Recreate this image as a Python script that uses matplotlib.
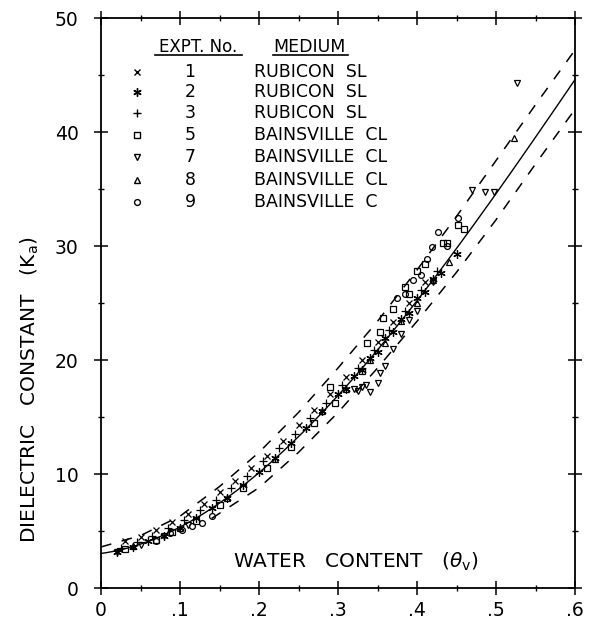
import numpy as np
import matplotlib
matplotlib.use("Agg")
import matplotlib.pyplot as plt
from matplotlib.ticker import MultipleLocator, FixedLocator

plt.rcParams['font.family'] = ['DejaVu Sans']

# Third-order calibration fit: Ka = c0 + c1*t + c2*t^2 + c3*t^3
fit_coeffs = [3.03, 9.3, 146.0, -76.7]

# Dashed envelope lines
upper_theta = [0.0, 0.05, 0.10, 0.15, 0.20, 0.25, 0.30, 0.35, 0.40, 0.45, 0.50, 0.55, 0.60]
upper_k = [3.6, 4.6, 6.3, 8.9, 11.9, 15.4, 19.3, 23.4, 27.9, 32.6, 37.5, 42.4, 47.2]
lower_theta = [0.14, 0.20, 0.25, 0.30, 0.35, 0.40, 0.45, 0.50, 0.55, 0.60]
lower_k = [6.1, 8.8, 11.9, 15.4, 19.3, 23.4, 27.7, 32.3, 37.2, 42.0]

# Experiment 1 - Rubicon SL
expt1_theta = [0.03, 0.05, 0.07, 0.09, 0.11, 0.13, 0.15, 0.17, 0.19, 0.21,
               0.23, 0.25, 0.27, 0.29, 0.31, 0.33, 0.35, 0.37, 0.39, 0.41]
expt1_k = [4.1, 4.5, 5.1, 5.8, 6.5, 7.4, 8.4, 9.4, 10.5, 11.6,
           12.9, 14.3, 15.6, 17.0, 18.5, 20.0, 21.6, 23.3, 25.0, 26.8]

# Experiment 2 - Rubicon SL
expt2_theta = [0.02, 0.04, 0.06, 0.08, 0.10, 0.12, 0.14, 0.16, 0.18, 0.20, 0.22,
               0.24, 0.26, 0.28, 0.30, 0.31, 0.32, 0.33, 0.34, 0.35, 0.36, 0.37,
               0.38, 0.39, 0.40, 0.41, 0.42, 0.43, 0.45]
expt2_k = [3.2, 3.6, 4.1, 4.6, 5.3, 6.1, 7.0, 7.9, 9.0, 10.2, 11.4,
           12.7, 14.0, 15.5, 17.0, 17.5, 18.6, 19.1, 20.2, 20.7, 21.9, 22.5,
           23.6, 24.1, 25.4, 26.0, 27.1, 27.6, 29.3]

# Experiment 3 - Rubicon SL
expt3_theta = [0.025, 0.045, 0.065, 0.085, 0.105, 0.125, 0.145, 0.165, 0.185, 0.205, 0.225,
               0.245, 0.265, 0.285, 0.305, 0.325, 0.345, 0.365, 0.385, 0.405, 0.425]
expt3_k = [3.5, 4.0, 4.6, 5.3, 6.0, 6.8, 7.7, 8.8, 9.8, 11.1, 12.3,
           13.5, 14.9, 16.2, 17.8, 19.3, 20.9, 22.6, 24.3, 26.1, 27.8]

# Experiment 5 - Bainsville CL
expt5_theta = [0.03, 0.07, 0.09, 0.12, 0.15, 0.18, 0.21, 0.24, 0.27, 0.29, 0.296, 0.33,
               0.337, 0.353, 0.357, 0.37, 0.385, 0.39, 0.40, 0.41, 0.433, 0.438, 0.452, 0.46]
expt5_k = [3.4, 4.2, 4.9, 5.9, 7.3, 8.8, 10.5, 12.4, 14.5, 17.6, 16.2, 19.0,
           21.5, 22.5, 23.7, 24.5, 26.4, 25.8, 27.8, 28.4, 30.3, 30.3, 31.8, 31.5]

# Experiment 7 - Bainsville CL
expt7_theta = [0.02, 0.05, 0.08, 0.11, 0.32, 0.325, 0.33, 0.335, 0.34, 0.35, 0.353,
               0.36, 0.37, 0.38, 0.39, 0.40, 0.42, 0.47, 0.486, 0.497, 0.527]
expt7_k = [3.2, 3.8, 4.6, 5.5, 17.5, 17.3, 17.6, 17.8, 17.2, 18.0, 18.9,
           19.5, 21.0, 22.3, 23.5, 24.3, 26.8, 34.9, 34.7, 34.7, 44.3]

# Experiment 8 - Bainsville CL
expt8_theta = [0.04, 0.10, 0.16, 0.22, 0.28, 0.31, 0.34, 0.36, 0.38, 0.40, 0.42, 0.44, 0.523]
expt8_k = [3.7, 5.3, 7.9, 11.3, 15.5, 17.5, 20.0, 21.5, 23.4, 25.0, 27.0, 28.6, 39.5]

# Experiment 9 - Bainsville C
expt9_theta = [0.07, 0.087, 0.103, 0.115, 0.128, 0.14, 0.375, 0.385, 0.395,
               0.405, 0.413, 0.419, 0.427, 0.438, 0.452]
expt9_k = [4.1, 4.8, 5.1, 5.4, 5.7, 6.3, 25.4, 25.8, 27.0,
           27.5, 28.9, 29.9, 31.2, 30.0, 32.5]

expt_numbers = ['1', '2', '3', '5', '7', '8', '9']
media = ['RUBICON  SL', 'RUBICON  SL', 'RUBICON  SL', 'BAINSVILLE  CL',
         'BAINSVILLE  CL', 'BAINSVILLE  CL', 'BAINSVILLE  C']
series = [(expt1_theta, expt1_k), (expt2_theta, expt2_k), (expt3_theta, expt3_k),
          (expt5_theta, expt5_k), (expt7_theta, expt7_k), (expt8_theta, expt8_k),
          (expt9_theta, expt9_k)]
markers = ['x', (6, 2, 0), '+', 's', 'v', '^', 'o']
msizes = [4.5, 6.0, 6.0, 4.2, 4.8, 4.8, 4.2]

x_ticks = [0, 0.1, 0.2, 0.3, 0.4, 0.5, 0.6]
x_tick_labels = ['0', '.1', '.2', '.3', '.4', '.5', '.6']
y_ticks = [0, 10, 20, 30, 40, 50]

fig = plt.figure(figsize=(5.89, 6.26), dpi=100)
ax = fig.add_axes([0.1715, 0.0607, 0.8048, 0.9105])
ax.set_xlim(0, 0.6)
ax.set_ylim(0, 50)

# fitted curve
tt = np.linspace(0, 0.6, 300)
kk = np.polyval(fit_coeffs[::-1], tt)
ax.plot(tt, kk, color='black', lw=1.0)

# envelope
ax.plot(upper_theta, upper_k, color='black', lw=1.1, dashes=(7, 7))
ax.plot(lower_theta, lower_k, color='black', lw=1.1, dashes=(7, 7))

for (th, k), m, ms in zip(series, markers, msizes):
    ax.plot(th, k, linestyle='none', marker=m, ms=ms, mfc='none',
            mec='black', mew=0.9)

# ticks and frame
for side in ax.spines.values():
    side.set_linewidth(1.3)
ax.xaxis.set_major_locator(FixedLocator(x_ticks))
ax.set_xticklabels(x_tick_labels)
ax.xaxis.set_minor_locator(MultipleLocator(0.05))
ax.yaxis.set_major_locator(FixedLocator(y_ticks))
ax.yaxis.set_minor_locator(MultipleLocator(5))
ax.tick_params(which='major', direction='inout', length=10, width=1.1,
               top=True, right=True, labelsize=13.5)
ax.tick_params(which='minor', direction='inout', length=4, width=1.0,
               top=True, right=True)
ax.tick_params(axis='x', which='major', pad=4)
ax.tick_params(axis='y', which='major', pad=11)

# axis titles
ax.text(0.323, 2.3, r'WATER   CONTENT   ($\theta_{\mathrm{v}}$)', fontsize=14.5,
        ha='center', va='center')
fig.text(30 / 589, 1 - 390 / 626, r'DIELECTRIC   CONSTANT   (K$_{\mathrm{a}}$)',
         fontsize=14.5, rotation=90, ha='center', va='center')

# key table
sym_x, num_x, med_x = 0.0456, 0.1127, 0.1937
row_k = [45.3, 43.5, 41.65, 39.75, 37.8, 35.8, 33.85]
ax.text(0.1228, 47.5, 'EXPT. No.', fontsize=12, ha='center', va='center')
ax.text(0.2177, 47.5, 'MEDIUM', fontsize=12.5, ha='left', va='center')
ax.plot([0.0684, 0.1785], [46.75, 46.75], color='black', lw=1.2)
ax.plot([0.2177, 0.3127], [46.75, 46.75], color='black', lw=1.2)
for rk, num, med, m, ms in zip(row_k, expt_numbers, media, markers, msizes):
    ax.plot([sym_x], [rk], linestyle='none', marker=m, ms=ms, mfc='none',
            mec='black', mew=1.0)
    ax.text(num_x, rk, num, fontsize=12.5, ha='center', va='center')
    ax.text(med_x, rk, med, fontsize=12.5, ha='left', va='center')

fig.savefig('out.png', dpi=100)
